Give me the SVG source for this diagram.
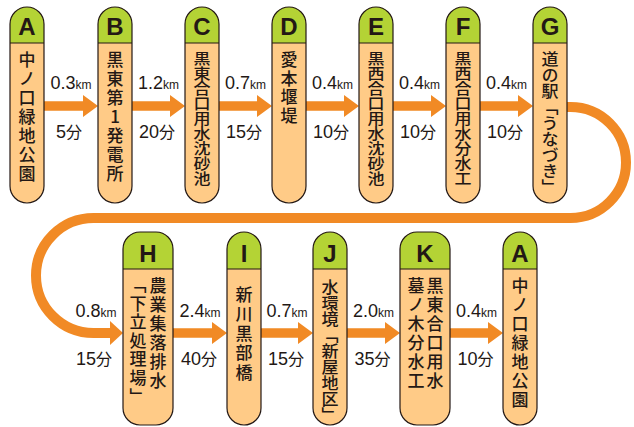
<svg xmlns="http://www.w3.org/2000/svg" width="634" height="427" viewBox="0 0 634 427">
<style>
.bg{fill:#FFFFFF}
.body{fill:#FFCB87}
.hd{fill:#B4D335}
.ol{fill:none;stroke:#231815;stroke-width:1.2}
.dv{stroke:#231815;stroke-width:1.2}
.lt{font-family:"Liberation Sans",Arial,sans-serif;font-weight:bold;font-size:24px;fill:#231815;text-anchor:middle}
.v{font-family:"Noto Sans CJK JP","Noto Sans CJK SC",sans-serif;font-size:17px;fill:#231815;writing-mode:vertical-rl;text-orientation:upright;font-weight:500}
.p19{letter-spacing:2px}
.arr{fill:#F18A25}
.arc{fill:none;stroke:#F18A25;stroke-width:10}
.dist{font-family:"Liberation Sans",Arial,"Noto Sans CJK JP",sans-serif;font-size:18px;fill:#231815;text-anchor:middle}
.km{font-size:12px}
.fun{font-family:"Noto Sans CJK JP",sans-serif;font-size:16px}
</style>
<rect class="bg" x="0" y="0" width="634" height="427"/>

<g id="connectors">
  <path class="arr" d="M44,101.3 H83 V95 L98,106 L83,117 V110.7 H44 Z"/>
  <path class="arr" d="M132,101.3 H170 V95 L185,106 L170,117 V110.7 H132 Z"/>
  <path class="arr" d="M219,101.3 H257 V95 L272,106 L257,117 V110.7 H219 Z"/>
  <path class="arr" d="M306,101.3 H344 V95 L359,106 L344,117 V110.7 H306 Z"/>
  <path class="arr" d="M393,101.3 H431 V95 L446,106 L431,117 V110.7 H393 Z"/>
  <path class="arr" d="M480,101.3 H518 V95 L533,106 L518,117 V110.7 H480 Z"/>
  <path class="arc" d="M567,107 H570.5 A55.5,55.5 0 0 1 570.5,218 H93.5 A57.5,57.5 0 0 0 93.5,333 H111"/>
  <polygon class="arr" points="110,321 123,333 110,345"/>
  <path class="arr" d="M173,328.3 H212 V322 L227,333 L212,344 V337.7 H173 Z"/>
  <path class="arr" d="M261,328.3 H298 V322 L313,333 L298,344 V337.7 H261 Z"/>
  <path class="arr" d="M347,328.3 H385 V322 L400,333 L385,344 V337.7 H347 Z"/>
  <path class="arr" d="M450,328.3 H488 V322 L503,333 L488,344 V337.7 H450 Z"/>
</g>

<g id="labels">
  <text class="dist" x="71" y="89">0.3<tspan class="km">km</tspan></text>
  <text class="dist" x="69" y="138">5<tspan class="fun">分</tspan></text>
  <text class="dist" x="158.5" y="89">1.2<tspan class="km">km</tspan></text>
  <text class="dist" x="157" y="138">20<tspan class="fun">分</tspan></text>
  <text class="dist" x="245.5" y="89">0.7<tspan class="km">km</tspan></text>
  <text class="dist" x="244" y="138">15<tspan class="fun">分</tspan></text>
  <text class="dist" x="332.5" y="89">0.4<tspan class="km">km</tspan></text>
  <text class="dist" x="331" y="138">10<tspan class="fun">分</tspan></text>
  <text class="dist" x="419.5" y="89">0.4<tspan class="km">km</tspan></text>
  <text class="dist" x="418" y="138">10<tspan class="fun">分</tspan></text>
  <text class="dist" x="506.5" y="89">0.4<tspan class="km">km</tspan></text>
  <text class="dist" x="505" y="138">10<tspan class="fun">分</tspan></text>
  <text class="dist" x="96" y="317">0.8<tspan class="km">km</tspan></text>
  <text class="dist" x="94" y="365">15<tspan class="fun">分</tspan></text>
  <text class="dist" x="200" y="317">2.4<tspan class="km">km</tspan></text>
  <text class="dist" x="199" y="365">40<tspan class="fun">分</tspan></text>
  <text class="dist" x="287" y="317">0.7<tspan class="km">km</tspan></text>
  <text class="dist" x="286" y="365">15<tspan class="fun">分</tspan></text>
  <text class="dist" x="373.5" y="317">2.0<tspan class="km">km</tspan></text>
  <text class="dist" x="372.5" y="365">35<tspan class="fun">分</tspan></text>
  <text class="dist" x="476.5" y="317">0.4<tspan class="km">km</tspan></text>
  <text class="dist" x="475.5" y="365">10<tspan class="fun">分</tspan></text>
</g>

<g id="node-A">
  <rect class="body" x="10" y="7" width="34" height="196" rx="17"/>
  <path class="hd" d="M10,43 V24 A17,17 0 0 1 44,24 V43 Z"/>
  <line class="dv" x1="10" y1="43" x2="44" y2="43"/>
  <rect class="ol" x="10" y="7" width="34" height="196" rx="17"/>
  <text class="lt" x="27" y="35">A</text>
  <text class="v p19" x="27" y="51">中ノ口緑地公園</text>
</g>
<g id="node-B">
  <rect class="body" x="98" y="7" width="34" height="196" rx="17"/>
  <path class="hd" d="M98,43 V24 A17,17 0 0 1 132,24 V43 Z"/>
  <line class="dv" x1="98" y1="43" x2="132" y2="43"/>
  <rect class="ol" x="98" y="7" width="34" height="196" rx="17"/>
  <text class="lt" x="115" y="35">B</text>
  <text class="v p19" x="115" y="51">黒東第1発電所</text>
</g>
<g id="node-C">
  <rect class="body" x="185" y="7" width="34" height="196" rx="17"/>
  <path class="hd" d="M185,43 V24 A17,17 0 0 1 219,24 V43 Z"/>
  <line class="dv" x1="185" y1="43" x2="219" y2="43"/>
  <rect class="ol" x="185" y="7" width="34" height="196" rx="17"/>
  <text class="lt" x="202" y="35">C</text>
  <text class="v" transform="translate(202,51) scale(1,0.882)" x="0" y="0">黒東合口用水沈砂池</text>
</g>
<g id="node-D">
  <rect class="body" x="272" y="7" width="34" height="196" rx="17"/>
  <path class="hd" d="M272,43 V24 A17,17 0 0 1 306,24 V43 Z"/>
  <line class="dv" x1="272" y1="43" x2="306" y2="43"/>
  <rect class="ol" x="272" y="7" width="34" height="196" rx="17"/>
  <text class="lt" x="289" y="35">D</text>
  <text class="v" style="letter-spacing:1.7px" x="289" y="51">愛本堰堤</text>
</g>
<g id="node-E">
  <rect class="body" x="359" y="7" width="34" height="196" rx="17"/>
  <path class="hd" d="M359,43 V24 A17,17 0 0 1 393,24 V43 Z"/>
  <line class="dv" x1="359" y1="43" x2="393" y2="43"/>
  <rect class="ol" x="359" y="7" width="34" height="196" rx="17"/>
  <text class="lt" x="376" y="35">E</text>
  <text class="v" transform="translate(376,51) scale(1,0.882)" x="0" y="0">黒西合口用水沈砂池</text>
</g>
<g id="node-F">
  <rect class="body" x="446" y="7" width="34" height="196" rx="17"/>
  <path class="hd" d="M446,43 V24 A17,17 0 0 1 480,24 V43 Z"/>
  <line class="dv" x1="446" y1="43" x2="480" y2="43"/>
  <rect class="ol" x="446" y="7" width="34" height="196" rx="17"/>
  <text class="lt" x="463" y="35">F</text>
  <text class="v" transform="translate(463,51) scale(1,0.882)" x="0" y="0">黒西合口用水分水工</text>
</g>
<g id="node-G">
  <rect class="body" x="533" y="7" width="34" height="196" rx="17"/>
  <path class="hd" d="M533,43 V24 A17,17 0 0 1 567,24 V43 Z"/>
  <line class="dv" x1="533" y1="43" x2="567" y2="43"/>
  <rect class="ol" x="533" y="7" width="34" height="196" rx="17"/>
  <text class="lt" x="550" y="35">G</text>
  <text class="v" transform="translate(550,51) scale(1,0.941)" x="0" y="0">道の駅「うなづき」</text>
</g>

<g id="node-H">
  <rect class="body" x="123" y="232" width="50" height="193" rx="17"/>
  <path class="hd" d="M123,269 V249 A17,17 0 0 1 140,232 H156 A17,17 0 0 1 173,249 V269 Z"/>
  <line class="dv" x1="123" y1="269" x2="173" y2="269"/>
  <rect class="ol" x="123" y="232" width="50" height="193" rx="17"/>
  <text class="lt" x="148" y="262">H</text>
  <text class="v p19" x="158" y="277">農業集落排水</text>
  <text class="v" style="letter-spacing:1.6px" x="138" y="276">「下立処理場」</text>
</g>
<g id="node-I">
  <rect class="body" x="227" y="232" width="34" height="193" rx="17"/>
  <path class="hd" d="M227,269 V249 A17,17 0 0 1 261,249 V269 Z"/>
  <line class="dv" x1="227" y1="269" x2="261" y2="269"/>
  <rect class="ol" x="227" y="232" width="34" height="193" rx="17"/>
  <text class="lt" x="244" y="262">I</text>
  <text class="v" style="letter-spacing:2.5px" x="244" y="286">新川黒部橋</text>
</g>
<g id="node-J">
  <rect class="body" x="313" y="232" width="34" height="193" rx="17"/>
  <path class="hd" d="M313,269 V249 A17,17 0 0 1 347,249 V269 Z"/>
  <line class="dv" x1="313" y1="269" x2="347" y2="269"/>
  <rect class="ol" x="313" y="232" width="34" height="193" rx="17"/>
  <text class="lt" x="330" y="262">J</text>
  <text class="v" transform="translate(330,279) scale(1,0.941)" x="0" y="0">水環境「新屋地区」</text>
</g>
<g id="node-K">
  <rect class="body" x="400" y="232" width="50" height="193" rx="17"/>
  <path class="hd" d="M400,269 V249 A17,17 0 0 1 417,232 H433 A17,17 0 0 1 450,249 V269 Z"/>
  <line class="dv" x1="400" y1="269" x2="450" y2="269"/>
  <rect class="ol" x="400" y="232" width="50" height="193" rx="17"/>
  <text class="lt" x="425" y="262">K</text>
  <text class="v p19" x="435" y="277">黒東合口用水</text>
  <text class="v p19" x="416" y="277">墓ノ木分水工</text>
</g>
<g id="node-A2">
  <rect class="body" x="503" y="232" width="34" height="193" rx="17"/>
  <path class="hd" d="M503,269 V249 A17,17 0 0 1 537,249 V269 Z"/>
  <line class="dv" x1="503" y1="269" x2="537" y2="269"/>
  <rect class="ol" x="503" y="232" width="34" height="193" rx="17"/>
  <text class="lt" x="520" y="262">A</text>
  <text class="v p19" x="520" y="277">中ノ口緑地公園</text>
</g>
</svg>
